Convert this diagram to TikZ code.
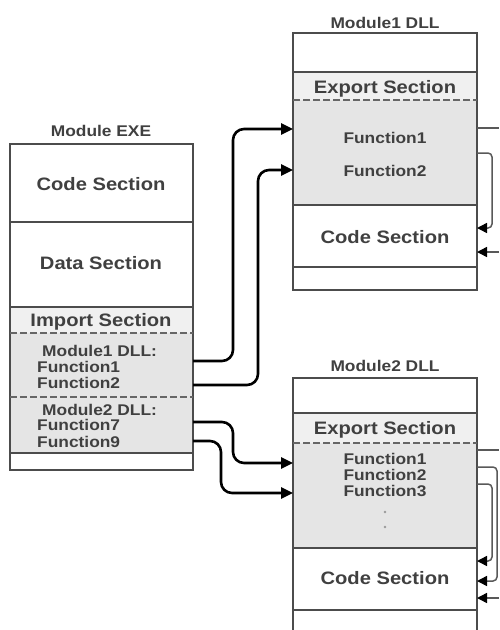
\documentclass[tikz,border=0pt]{standalone}
\usepackage{fontspec}
\setmainfont{Liberation Sans}
\usepackage{graphicx}
\usetikzlibrary{arrows.meta}
\newcommand\sx[1]{\scalebox{1.12}[1]{#1}}
\begin{document}
\begin{tikzpicture}[x=1pt,y=-1pt,
 box/.style={draw=black!70,line width=1.5pt},
 sep/.style={draw=black!70,line width=1.5pt},
 dsep/.style={draw=black!60,line width=1.5pt,dash pattern=on 7pt off 3pt},
 txt/.style={text=black!75,inner sep=0pt,text height=0.72em,text depth=0pt,yshift=-2.5pt},
 big/.style={txt,font=\fontsize{18}{20}\selectfont\bfseries},
 small/.style={txt,font=\fontsize{15.5}{16}\selectfont\bfseries},
 ttl/.style={txt,font=\fontsize{15.5}{17}\selectfont\bfseries},
 call/.style={line width=2.6pt,rounded corners=11pt,-{Triangle[length=12pt,width=11pt]}},
 link/.style={draw=black!65,line width=1.5pt,rounded corners=4pt},
 back/.style={link,-{Triangle[length=10pt,width=10pt,fill=black,color=black]}}]
\useasboundingbox (0,0) rectangle (499,630);
\fill[white] (0,0) rectangle (499,630);

% ---- Module EXE ----
\fill[black!6] (10,307) rectangle (193,333);
\fill[black!10] (10,333) rectangle (193,453);
\draw[box] (10,144) rectangle (193,470);
\draw[sep] (10,222) -- (193,222) (10,307) -- (193,307) (10,453) -- (193,453);
\draw[dsep] (10,333) -- (193,333) (10,397) -- (193,397);
\node[ttl] (exet) at (101,130) {\sx{Module EXE}};
\node[big] (exec) at (101,184) {\sx{Code Section}};
\node[big] (exed) at (101,263) {\sx{Data Section}};
\node[big] (exei) at (101,320) {\sx{Import Section}};
\node[small,anchor=west] (m1) at (42,350) {\sx{Module1 DLL:}};
\node[small,anchor=west] (m1f1) at (37,366) {\sx{Function1}};
\node[small,anchor=west] (m1f2) at (37,382) {\sx{Function2}};
\node[small,anchor=west] (m2) at (42,409) {\sx{Module2 DLL:}};
\node[small,anchor=west] (m2f7) at (37,424) {\sx{Function7}};
\node[small,anchor=west] (m2f9) at (37,441) {\sx{Function9}};

% ---- Module1 DLL ----
\fill[black!6] (293,72) rectangle (477,100);
\fill[black!10] (293,100) rectangle (477,205);
\draw[box] (293,33) rectangle (477,290);
\draw[sep] (293,72) -- (477,72) (293,205) -- (477,205) (293,267) -- (477,267);
\draw[dsep] (293,100) -- (477,100);
\node[ttl] (d1t) at (385,22) {\sx{Module1 DLL}};
\node[big] (d1e) at (385,87) {\sx{Export Section}};
\node[small] (d1f1) at (385,137) {\sx{Function1}};
\node[small] (d1f2) at (385,170) {\sx{Function2}};
\node[big] (d1c) at (385,237) {\sx{Code Section}};

% ---- Module2 DLL ----
\fill[black!6] (293,413) rectangle (477,443);
\fill[black!10] (293,443) rectangle (477,548);
\draw[box] (293,632) -- (293,378) -- (477,378) -- (477,632);
\draw[sep] (293,413) -- (477,413) (293,548) -- (477,548) (293,610) -- (477,610);
\draw[dsep] (293,443) -- (477,443);
\node[ttl] (d2t) at (385,365) {\sx{Module2 DLL}};
\node[big] (d2e) at (385,428) {\sx{Export Section}};
\node[small] (d2f1) at (385,458) {\sx{Function1}};
\node[small] (d2f2) at (385,474) {\sx{Function2}};
\node[small] (d2f3) at (385,490) {\sx{Function3}};
\fill[black!40] (385,512) circle (1.3pt) (385,527) circle (1.3pt);
\node[big] (d2c) at (385,578) {\sx{Code Section}};

% ---- import connectors ----
\coordinate (e1) at (193,361);
\coordinate (e2) at (193,385);
\coordinate (e3) at (193,422);
\coordinate (e4) at (193,441);
\coordinate (i1a) at (293,129);
\coordinate (i1b) at (293,170);
\coordinate (i2a) at (293,463);
\coordinate (i2b) at (293,493);
\draw[call] (e1) -- ++(40,0) |- (i1a);
\draw[call] (e2) -- ++(65,0) |- (i1b);
\draw[call] (e3) -- ++(40,0) |- (i2a);
\draw[call] (e4) -- ++(28,0) |- (i2b);

% ---- right-hand links ----
\coordinate (a1) at (477,128);  \coordinate (a1o) at (499,128);
\coordinate (a2) at (477,153);  \coordinate (a2b) at (477,228);
\coordinate (a3o) at (499,252); \coordinate (a3) at (477,252);
\draw[link] (a1) -- (a1o);
\draw[back] (a2) -- ++(15,0) |- (a2b);
\draw[back] (a3o) -- (a3);

\coordinate (b1) at (477,450);  \coordinate (b1o) at (499,450);
\coordinate (b2) at (477,467);  \coordinate (b2b) at (477,581);
\coordinate (b3) at (477,484);  \coordinate (b3b) at (477,561);
\coordinate (b4o) at (499,598); \coordinate (b4) at (477,598);
\draw[link] (b1) -- (b1o);
\draw[back] (b2) -- ++(20,0) |- (b2b);
\draw[back] (b3) -- ++(15,0) |- (b3b);
\draw[back] (b4o) -- (b4);
\end{tikzpicture}
\end{document}
